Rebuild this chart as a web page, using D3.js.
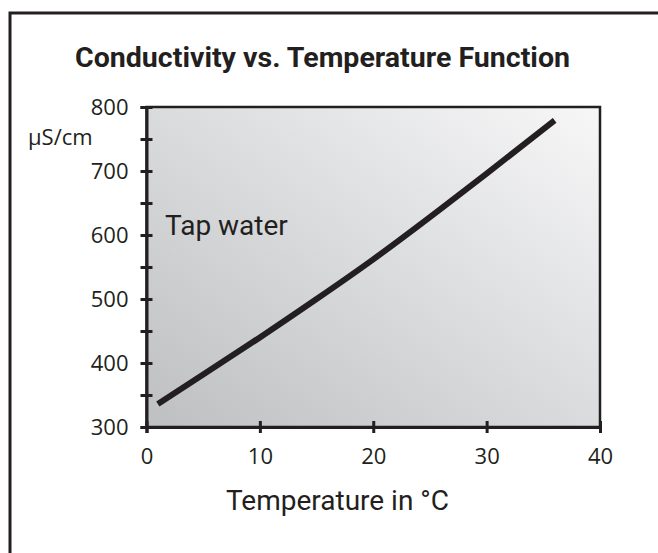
<!DOCTYPE html>
<html>
<head>
<meta charset="utf-8">
<script src="https://cdn.jsdelivr.net/npm/d3@7"></script>
<style>
  body { margin: 0; background: #fff; }
  svg { display: block; }
</style>
</head>
<body>
<script>
// Data
var temps = [1, 5, 10, 15, 20, 25, 30, 36];
var conductivity = [336, 382, 440, 500, 562, 628, 696, 779];
var xTicks = [0, 10, 20, 30, 40];
var yTicks = [300, 350, 400, 450, 500, 550, 600, 650, 700, 750, 800];

var ink = "#231f20";

var svg = d3.select("body")
  .append("svg")
  .attr("width", 658)
  .attr("height", 553);

// background gradient for the plot area
var defs = svg.append("defs");
var grad = defs.append("linearGradient")
  .attr("id", "bg")
  .attr("x1", 0).attr("y1", 1)
  .attr("x2", 1).attr("y2", 0);
grad.append("stop").attr("offset", "0%").attr("stop-color", "#bdbfc1");
grad.append("stop").attr("offset", "100%").attr("stop-color", "#f7f7f8");

// outer frame (runs off the right and bottom edge)
svg.append("rect")
  .attr("x", 10).attr("y", 13)
  .attr("width", 700).attr("height", 600)
  .attr("fill", "none")
  .attr("stroke", ink)
  .attr("stroke-width", 3);

// title
svg.append("text")
  .attr("x", 75).attr("y", 67)
  .attr("textLength", 495)
  .attr("lengthAdjust", "spacingAndGlyphs")
  .style("font-family", "Roboto")
  .style("font-weight", "bold")
  .style("font-size", "28px")
  .attr("fill", ink)
  .text("Conductivity vs. Temperature Function");

// scales
var x = d3.scaleLinear().domain([0, 40]).range([146.5, 600]);
var y = d3.scaleLinear().domain([300, 800]).range([427, 107]);

// plot area
svg.append("rect")
  .attr("x", x(0)).attr("y", y(800))
  .attr("width", x(40) - x(0))
  .attr("height", y(300) - y(800))
  .attr("fill", "url(#bg)")
  .attr("stroke", ink)
  .attr("stroke-width", 2.5);

// y axis
var yAxis = svg.append("g")
  .attr("transform", "translate(" + x(0) + ",0)")
  .call(d3.axisLeft(y)
    .tickValues(yTicks)
    .tickSize(6)
    .tickPadding(12)
    .tickFormat(function(d) { return d % 100 === 0 ? d : ""; }));
yAxis.select(".domain").attr("stroke", ink).attr("stroke-width", 3);
yAxis.selectAll(".tick line")
  .attr("x1", 6).attr("x2", -6)
  .attr("stroke", ink).attr("stroke-width", 3);
yAxis.selectAll(".tick text")
  .style("font-family", "Open Sans")
  .style("font-size", "22px")
  .attr("fill", ink);

// x axis
var xAxis = svg.append("g")
  .attr("transform", "translate(0," + y(300) + ")")
  .call(d3.axisBottom(x)
    .tickValues(xTicks)
    .tickSize(6)
    .tickPadding(15));
xAxis.select(".domain").attr("stroke", ink).attr("stroke-width", 3);
xAxis.selectAll(".tick line")
  .attr("y1", -6).attr("y2", 6)
  .attr("stroke", ink).attr("stroke-width", 3);
xAxis.selectAll(".tick text")
  .style("font-family", "Open Sans")
  .style("font-size", "22px")
  .attr("fill", ink);

// unit label
svg.append("text")
  .attr("x", 28).attr("y", 145)
  .style("font-family", "Open Sans")
  .style("font-size", "22px")
  .attr("fill", ink)
  .text("\u00b5S/cm");

// x axis title
svg.append("text")
  .attr("x", 226).attr("y", 510)
  .style("font-family", "Roboto")
  .style("font-size", "28px")
  .attr("fill", ink)
  .text("Temperature in \u00b0C");

// series label
svg.append("text")
  .attr("x", 165).attr("y", 235)
  .style("font-family", "Roboto")
  .style("font-size", "28px")
  .attr("fill", ink)
  .text("Tap water");

// the curve
var pts = temps.map(function(t, i) { return [t, conductivity[i]]; });
var line = d3.line()
  .x(function(d) { return x(d[0]); })
  .y(function(d) { return y(d[1]); })
  .curve(d3.curveNatural);

svg.append("path")
  .datum(pts)
  .attr("d", line)
  .attr("fill", "none")
  .attr("stroke", ink)
  .attr("stroke-width", 6);
</script>
</body>
</html>
